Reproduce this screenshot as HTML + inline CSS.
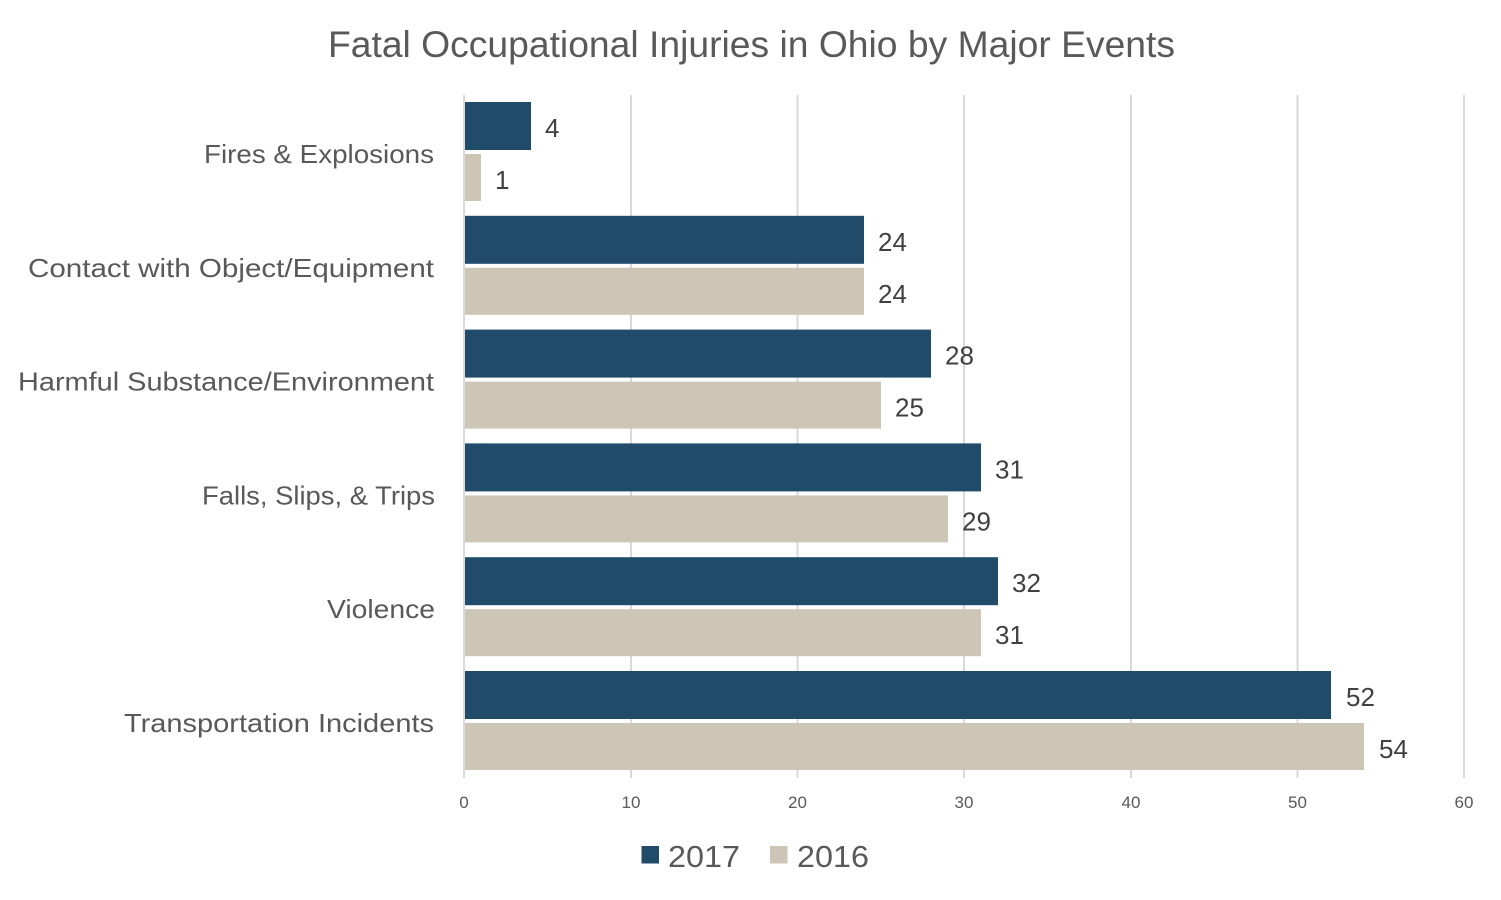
<!DOCTYPE html>
<html>
<head>
<meta charset="utf-8">
<style>
html,body{margin:0;padding:0;background:#fff;}
svg{display:block;}
text{font-family:"Liberation Sans",sans-serif;}
</style>
</head>
<body>
<svg width="1501" height="900" viewBox="0 0 1501 900" xmlns="http://www.w3.org/2000/svg">
<rect width="1501" height="900" fill="#ffffff"/>
<!-- Title -->
<text x="328" y="57" font-size="37" fill="#595959" textLength="847" lengthAdjust="spacingAndGlyphs">Fatal Occupational Injuries in Ohio by Major Events</text>

<!-- Gridlines -->
<g stroke="#d9d9d9" stroke-width="2">
<line x1="464" y1="95" x2="464" y2="778"/>
<line x1="631" y1="95" x2="631" y2="778"/>
<line x1="797.5" y1="95" x2="797.5" y2="778"/>
<line x1="964" y1="95" x2="964" y2="778"/>
<line x1="1131" y1="95" x2="1131" y2="778"/>
<line x1="1297.5" y1="95" x2="1297.5" y2="778"/>
<line x1="1464" y1="95" x2="1464" y2="778"/>
</g>

<!-- Tick labels -->
<g font-size="17" fill="#595959" text-anchor="middle">
<text x="464" y="808">0</text>
<text x="631" y="808">10</text>
<text x="797.5" y="808">20</text>
<text x="964" y="808">30</text>
<text x="1131" y="808">40</text>
<text x="1297.5" y="808">50</text>
<text x="1464" y="808">60</text>
</g>

<!-- Bars -->
<g>
<!-- Fires T=102 -->
<rect x="465" y="102" width="66" height="48" fill="#204c6a"/>
<rect x="465" y="154" width="16" height="47" fill="#cdc6b7"/>
<!-- Contact T=215.8 -->
<rect x="465" y="215.8" width="399" height="48" fill="#204c6a"/>
<rect x="465" y="267.8" width="399" height="47" fill="#cdc6b7"/>
<!-- Harmful T=329.6 -->
<rect x="465" y="329.6" width="466" height="48" fill="#204c6a"/>
<rect x="465" y="381.6" width="416" height="47" fill="#cdc6b7"/>
<!-- Falls T=443.4 -->
<rect x="465" y="443.4" width="516" height="48" fill="#204c6a"/>
<rect x="465" y="495.4" width="483" height="47" fill="#cdc6b7"/>
<!-- Violence T=557.2 -->
<rect x="465" y="557.2" width="533" height="48" fill="#204c6a"/>
<rect x="465" y="609.2" width="516" height="47" fill="#cdc6b7"/>
<!-- Transport T=671 -->
<rect x="465" y="671" width="866" height="48" fill="#204c6a"/>
<rect x="465" y="723" width="899" height="47" fill="#cdc6b7"/>
</g>

<!-- Data labels -->
<g font-size="26" fill="#404040">
<text x="545" y="137">4</text>
<text x="495" y="189">1</text>
<text x="878" y="250.8">24</text>
<text x="878" y="302.8">24</text>
<text x="945" y="364.6">28</text>
<text x="895" y="416.6">25</text>
<text x="995" y="478.4">31</text>
<text x="962" y="530.4">29</text>
<text x="1012" y="592.2">32</text>
<text x="995" y="644.2">31</text>
<text x="1346" y="706">52</text>
<text x="1379" y="758">54</text>
</g>

<!-- Category labels -->
<g font-size="26" fill="#595959">
<text x="204" y="163" textLength="230" lengthAdjust="spacingAndGlyphs">Fires &amp; Explosions</text>
<text x="28" y="276.8" textLength="406" lengthAdjust="spacingAndGlyphs">Contact with Object/Equipment</text>
<text x="18" y="390.6" textLength="416" lengthAdjust="spacingAndGlyphs">Harmful Substance/Environment</text>
<text x="202" y="504.4" textLength="233" lengthAdjust="spacingAndGlyphs">Falls, Slips, &amp; Trips</text>
<text x="327" y="618.2" textLength="108" lengthAdjust="spacingAndGlyphs">Violence</text>
<text x="124" y="732" textLength="310" lengthAdjust="spacingAndGlyphs">Transportation Incidents</text>
</g>

<!-- Legend -->
<rect x="641.5" y="846" width="17.5" height="17.5" fill="#204c6a"/>
<text x="668" y="867" font-size="31" fill="#595959" textLength="72" lengthAdjust="spacingAndGlyphs">2017</text>
<rect x="770" y="846" width="17.5" height="17.5" fill="#cdc6b7"/>
<text x="797" y="867" font-size="31" fill="#595959" textLength="72" lengthAdjust="spacingAndGlyphs">2016</text>
</svg>
</body>
</html>
